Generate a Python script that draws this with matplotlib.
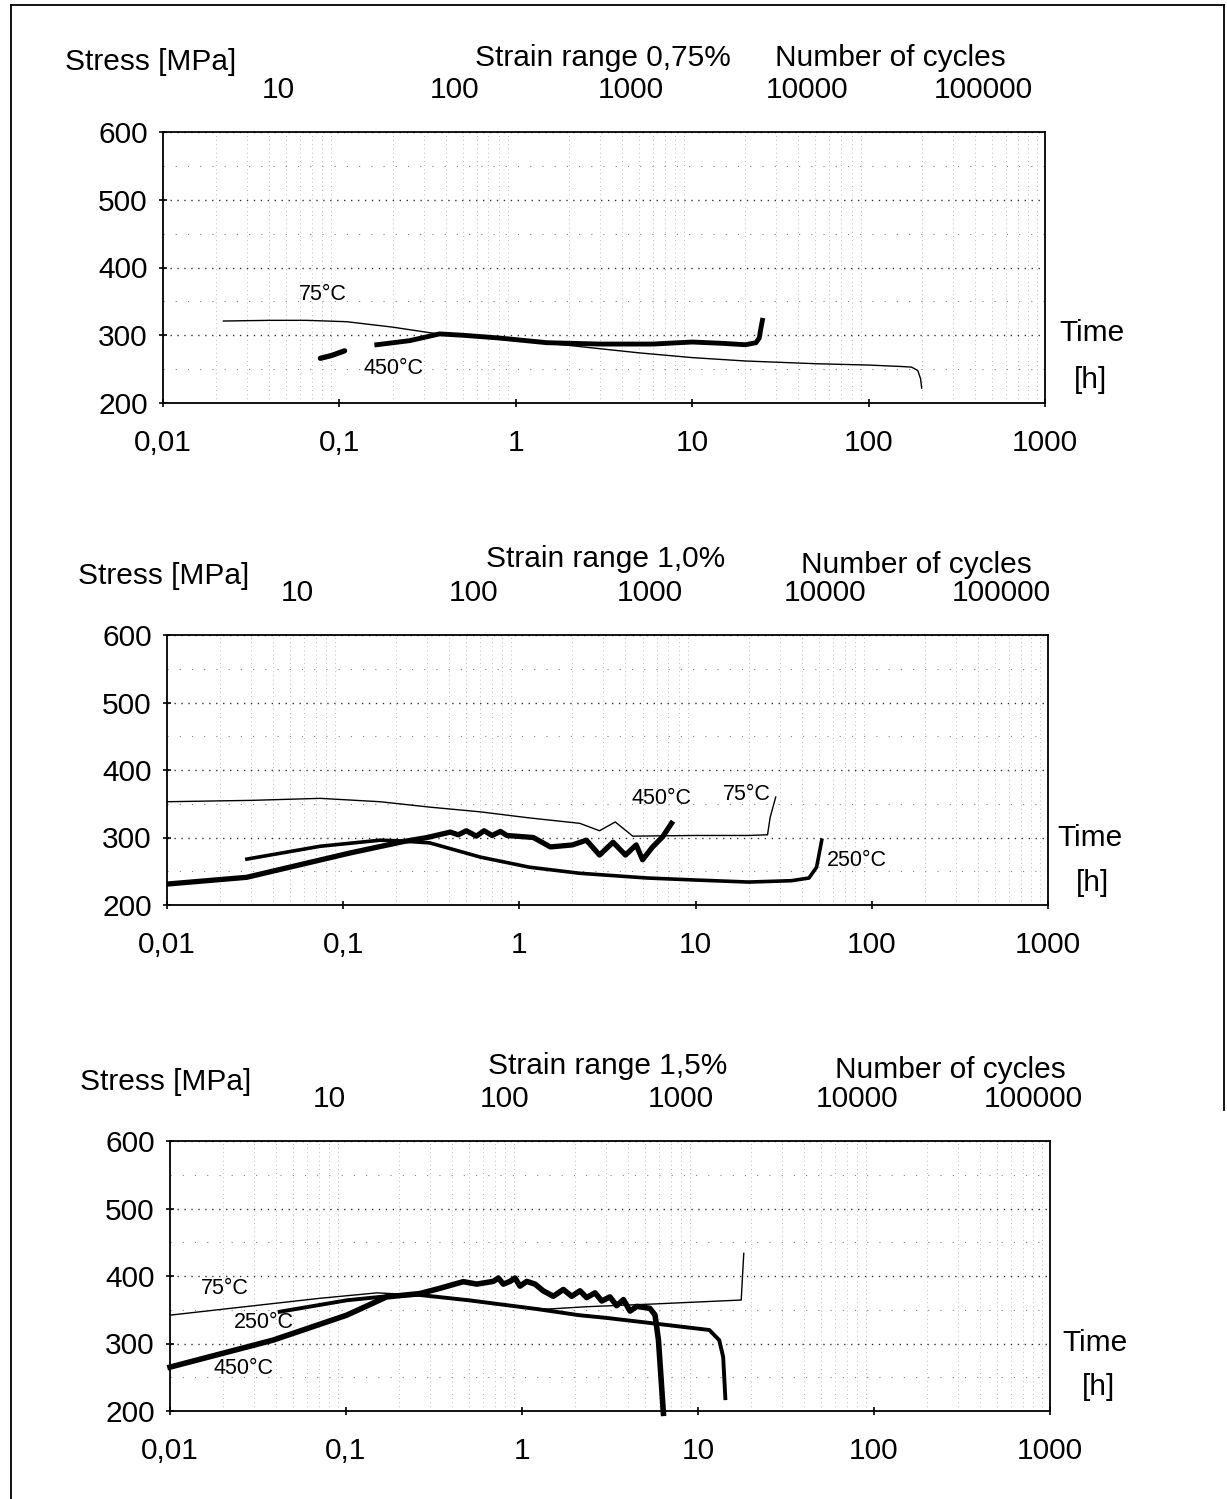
import matplotlib
matplotlib.use("Agg")
import numpy as np
from matplotlib import pyplot as plt
from matplotlib.lines import Line2D
from matplotlib.ticker import FixedLocator, NullFormatter

plt.rcParams['font.family'] = ['Liberation Sans', 'DejaVu Sans']

W, H = 1227, 1499

# ---- data (time in h, stress in MPa) ----
# strain range 0,75 %
p1_t75 = [0.022, 0.04, 0.065, 0.11, 0.2, 0.34, 0.6, 1.0, 2.0, 5, 10, 20, 50, 100, 150, 175, 190, 197, 200]
p1_s75 = [321, 322, 322, 320, 312, 303, 297, 292, 285, 274, 267, 262, 258, 256, 254, 253, 248, 236, 222]
p1_t450a = [0.078, 0.09, 0.107]
p1_s450a = [266, 270, 277]
p1_t450 = [0.163, 0.25, 0.37, 0.5, 0.8, 1.5, 3, 6, 10, 15, 20, 23, 24, 24.5, 25]
p1_s450 = [286, 292, 302, 300, 296, 289, 287, 287, 290, 288, 286, 289, 296, 310, 322]

# strain range 1,0 %
p2_t75 = [0.01, 0.03, 0.074, 0.162, 0.31, 0.60, 1.14, 2.2, 2.85, 3.5, 4.4, 10, 20, 25.6, 26.5, 28.5]
p2_s75 = [353, 355, 358, 353, 345, 338, 329, 321, 310, 323, 302, 303, 303, 304, 330, 360]
p2_t250 = [0.0284, 0.074, 0.162, 0.21, 0.31, 0.6, 1.14, 2.2, 5.3, 10, 20, 35, 44, 48.6, 52]
p2_s250 = [268, 287, 296, 295, 292, 271, 256, 247, 240, 237, 234, 236, 240, 256, 296]
p2_t450 = [0.01, 0.0283, 0.109, 0.22, 0.30, 0.405, 0.45, 0.5, 0.57, 0.63, 0.7, 0.78, 0.85, 1.2,
           1.5, 2.0, 2.4, 2.85, 3.4, 4.0, 4.6, 5.0, 5.7, 6.5, 7.3]
p2_s450 = [231, 241, 277, 294, 300, 308, 304, 310, 302, 310, 303, 309, 303, 300,
           286, 289, 296, 274, 293, 274, 289, 267, 286, 301, 321]

# strain range 1,5 %
p3_t75 = [0.01, 0.0712, 0.15, 0.26, 0.5, 1.2, 1.4, 2.33, 5.56, 17.6, 18.2]
p3_s75 = [342, 367, 375, 372, 364, 352, 351, 354.5, 358.5, 364.4, 433.6]
p3_t250 = [0.042, 0.101, 0.17, 0.26, 0.50, 1.22, 2.1, 3.0, 5.5, 11.6, 13.2, 13.9, 14.3]
p3_s250 = [347, 364, 370, 372, 364, 351, 342, 338, 330, 320, 305, 280, 219]
p3_t450 = [0.01, 0.0385, 0.101, 0.17, 0.263, 0.342, 0.464, 0.553, 0.687, 0.734, 0.783, 0.855,
           0.912, 0.974, 1.064, 1.186, 1.32, 1.506, 1.717, 1.915, 2.136, 2.33, 2.6, 2.84,
           3.16, 3.45, 3.77, 4.11, 4.49, 5.33, 5.70, 5.96, 6.14, 6.36]
p3_s450 = [265, 305, 342, 369, 374, 381.8, 391.6, 388, 392, 397, 388, 392,
           397, 385, 392, 388, 378, 370, 380, 370, 378, 368, 375, 363,
           369, 356, 365, 348, 355, 352.1, 342.2, 305.2, 255.8, 196.5]

x_ticks = [0.01, 0.1, 1, 10, 100, 1000]
x_ticklabels = ["0,01", "0,1", "1", "10", "100", "1000"]
y_ticks = [200, 300, 400, 500, 600]
cycle_ticks = [10, 100, 1000, 10000, 100000]
cycle_labels = ["10", "100", "1000", "10000", "100000"]
titles = ["Strain range 0,75%", "Strain range 1,0%", "Strain range 1,5%"]
cycles_per_hour = [223, 183, 125]


def px(x, y):
  return x / W, 1 - y / H


fig = plt.figure(figsize=(W / 100, H / 100), dpi=100)
fig.patch.set_facecolor("white")

# page frame
for xs, ys in [((11, 1224), (5, 5)), ((11, 11), (5, 1499)), ((1224, 1224), (5, 1110))]:
  fig.add_artist(Line2D([x / W for x in xs], [1 - y / H for y in ys],
                        transform=fig.transFigure, color="black", lw=1.3))

# axes boxes in pixels: left, top, right, bottom
boxes = [(163, 132, 1045, 403), (167, 635, 1048, 905), (170, 1141, 1050, 1411)]
axes = []
for (l, t, r, b) in boxes:
  ax = fig.add_axes([l / W, 1 - b / H, (r - l) / W, (b - t) / H])
  axes.append(ax)

FS = 21.5

for i, ax in enumerate(axes):
  ax.set_xscale("log")
  ax.set_xlim(0.01, 1000)
  ax.set_ylim(200, 600)
  ax.set_xticks(x_ticks)
  ax.set_xticklabels(x_ticklabels)
  ax.set_yticks(y_ticks)
  ax.xaxis.set_minor_locator(FixedLocator(
    [m * 10.0 ** e for e in range(-2, 3) for m in range(2, 10)]))
  ax.xaxis.set_minor_formatter(NullFormatter())
  ax.yaxis.set_minor_locator(FixedLocator([250, 350, 450, 550]))
  ax.tick_params(axis="x", which="major", direction="inout", length=6, width=1.2,
                 labelsize=FS, pad=16)
  ax.tick_params(axis="y", which="major", direction="inout", length=6, width=1.2,
                 labelsize=FS, pad=8)
  ax.tick_params(which="minor", length=0)
  for sp in ax.spines.values():
    sp.set_linewidth(1.3)
  ax.grid(which="major", axis="y", color="0.2", lw=1.0, linestyle=(0, (1, 4)))
  ax.grid(which="minor", axis="y", color="0.5", lw=0.8, linestyle=(0, (1, 10)))
  ax.grid(which="minor", axis="x", color="0.65", lw=0.6, linestyle=(0, (1, 4)))

  k = cycles_per_hour[i]
  sec = ax.secondary_xaxis("top", functions=(lambda t, k=k: t * k, lambda n, k=k: n / k))
  sec.set_xticks(cycle_ticks)
  sec.set_xticklabels(cycle_labels)
  sec.xaxis.set_minor_locator(FixedLocator([]))
  sec.tick_params(axis="x", length=0, labelsize=FS, pad=20)
  sec.spines["top"].set_visible(False)

# curves
a1, a2, a3 = axes
a1.plot(p1_t75, p1_s75, color="black", lw=1.0)
a1.plot(p1_t450a, p1_s450a, color="black", lw=3.8, solid_capstyle="round")
a1.plot(p1_t450, p1_s450, color="black", lw=3.5)

a2.plot(p2_t75, p2_s75, color="black", lw=1.0)
a2.plot(p2_t250, p2_s250, color="black", lw=2.6)
a2.plot(p2_t450, p2_s450, color="black", lw=3.8)

a3.plot(p3_t75, p3_s75, color="black", lw=1.0)
a3.plot(p3_t250, p3_s250, color="black", lw=2.8)
a3.plot(p3_t450, p3_s450, color="black", lw=4.0, clip_on=False)

# header texts
headers = [
  ((65, 62), (603, 58), (890, 58)),
  ((78, 576), (606, 559), (916, 565)),
  ((80, 1082), (608, 1066), (950, 1070)),
]
for i, (st, sr, nc) in enumerate(headers):
  fig.text(*px(*st), "Stress [MPa]", fontsize=FS, ha="left", va="center")
  fig.text(*px(*sr), titles[i], fontsize=FS, ha="center", va="center")
  fig.text(*px(*nc), "Number of cycles", fontsize=FS, ha="center", va="center")

for (tx, ty), (hx, hy) in [((1092, 333), (1090, 380)), ((1090, 838), (1092, 883)),
                           ((1095, 1343), (1098, 1387))]:
  fig.text(*px(tx, ty), "Time", fontsize=FS, ha="center", va="center")
  fig.text(*px(hx, hy), "[h]", fontsize=FS, ha="center", va="center")

# curve labels
CL = 15.5
for x, y, s in [(323, 294, "75°C"), (393, 369, "450°C"),
                (661, 799, "450°C"), (747, 794, "75°C"), (857, 860, "250°C"),
                (225, 1288, "75°C"), (264, 1323, "250°C"), (244, 1368, "450°C")]:
  fig.text(*px(x, y), s, fontsize=CL, ha="center", va="center")

fig.savefig("out.png", dpi=100, facecolor="white")
